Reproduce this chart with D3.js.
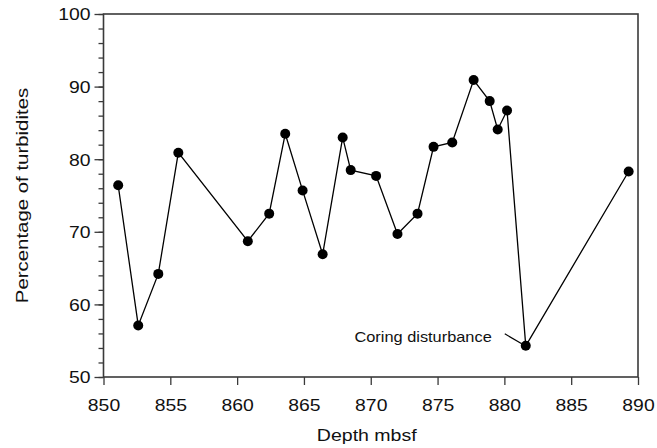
<!DOCTYPE html>
<html>
<head>
<meta charset="utf-8">
<script src="https://cdn.jsdelivr.net/npm/d3@7"></script>
<style>
  html, body { margin: 0; padding: 0; background: #fff; }
  svg { display: block; }
  text { font-family: "Liberation Sans", Arial, Helvetica, sans-serif; fill: #111; }
</style>
</head>
<body>
<svg id="chart" width="657" height="448"></svg>
<script>
// Depth (mbsf) of each sample and its turbidite percentage
const depth = [851.1, 852.6, 854.1, 855.6, 860.8, 862.4, 863.6, 864.9, 866.4, 867.9, 868.5,
               870.4, 872.0, 873.5, 874.7, 876.1, 877.7, 878.9, 879.5, 880.2, 881.6, 889.3];
const turbidites = [76.4, 57.1, 64.2, 80.9, 68.7, 72.5, 83.5, 75.7, 66.9, 83.0, 78.5,
                    77.7, 69.7, 72.5, 81.7, 82.3, 90.9, 88.0, 84.1, 86.7, 54.3, 78.3];
const xTicks = [850, 855, 860, 865, 870, 875, 880, 885, 890];
const yTicks = [50, 60, 70, 80, 90, 100];
const yMinorTicks = d3.range(50, 100.01, 2);
const annotation = { text: "Coring disturbance", index: 20 };

const svg = d3.select("#chart");
const margin = { left: 103.5, right: 19, top: 14, bottom: 71 };
const W = 657, H = 448;

const x = d3.scaleLinear().domain([850, 890]).range([margin.left, W - margin.right]);
const y = d3.scaleLinear().domain([50, 100]).range([H - margin.bottom, margin.top]);

const axisColor = "#3a3a3a";
const stretch = 1.14; // wide lettering

// frame
svg.append("rect")
  .attr("x", x(850)).attr("y", y(100))
  .attr("width", x(890) - x(850)).attr("height", y(50) - y(100))
  .attr("fill", "none").attr("stroke", axisColor).attr("stroke-width", 1.6);

// y minor ticks
svg.append("g")
  .attr("transform", `translate(${x(850)},0)`)
  .call(d3.axisLeft(y).tickValues(yMinorTicks).tickSize(5).tickFormat(""))
  .call(g => g.select(".domain").remove())
  .call(g => g.selectAll("line").attr("stroke", axisColor).attr("stroke-width", 1.3));

// y major ticks
const yAxis = svg.append("g")
  .attr("transform", `translate(${x(850)},0)`)
  .call(d3.axisLeft(y).tickValues(yTicks).tickSize(9).tickPadding(4).tickFormat(d3.format("d")))
  .call(g => g.select(".domain").remove());
yAxis.selectAll("line").attr("stroke", axisColor).attr("stroke-width", 1.3);
yAxis.selectAll("text")
  .attr("font-size", 17).attr("font-family", "Liberation Sans, Arial, sans-serif").attr("fill", "#111")
  .each(function () {
    const t = d3.select(this);
    const xx = +t.attr("x") || -13;
    t.attr("x", null).attr("dy", "0.35em")
     .attr("transform", `translate(${xx},${0}) scale(${stretch},1)`);
  });

// x ticks
const xAxis = svg.append("g")
  .attr("transform", `translate(0,${y(50)})`)
  .call(d3.axisBottom(x).tickValues(xTicks).tickSize(8).tickPadding(6).tickFormat(d3.format("d")))
  .call(g => g.select(".domain").remove());
xAxis.selectAll("line").attr("stroke", axisColor).attr("stroke-width", 1.3);
xAxis.selectAll("text")
  .attr("font-size", 17).attr("font-family", "Liberation Sans, Arial, sans-serif").attr("fill", "#111")
  .each(function () {
    const t = d3.select(this);
    t.attr("y", null).attr("dy", null)
     .attr("transform", `translate(0,34) scale(${stretch},1)`);
  });

// axis titles
svg.append("text")
  .attr("font-size", 17).attr("text-anchor", "middle")
  .attr("transform", `translate(${(x(850) + x(890)) / 2 - 4},441) scale(1.15,1)`)
  .text("Depth mbsf");

svg.append("text")
  .attr("font-size", 17).attr("text-anchor", "middle")
  .attr("transform", `translate(28,${(y(50) + y(100)) / 2}) rotate(-90) scale(1.2,1)`)
  .text("Percentage of turbidites");

// data line and markers
const pts = depth.map((d, i) => [d, turbidites[i]]);
svg.append("path")
  .datum(pts)
  .attr("fill", "none").attr("stroke", "#000").attr("stroke-width", 1.3)
  .attr("d", d3.line().x(d => x(d[0])).y(d => y(d[1])));

svg.append("g").selectAll("circle")
  .data(pts).join("circle")
  .attr("cx", d => x(d[0])).attr("cy", d => y(d[1])).attr("r", 5)
  .attr("fill", "#000");

// annotation with leader line
const ap = pts[annotation.index];
svg.append("line")
  .attr("x1", x(ap[0]) - 21).attr("y1", y(ap[1]) - 12)
  .attr("x2", x(ap[0]) - 4).attr("y2", y(ap[1]) - 2)
  .attr("stroke", "#000").attr("stroke-width", 1.2);
svg.append("text")
  .attr("font-size", 14).attr("text-anchor", "end")
  .attr("transform", `translate(${x(ap[0]) - 34},${y(ap[1]) - 4}) scale(1.17,1)`)
  .text(annotation.text);
</script>
</body>
</html>
